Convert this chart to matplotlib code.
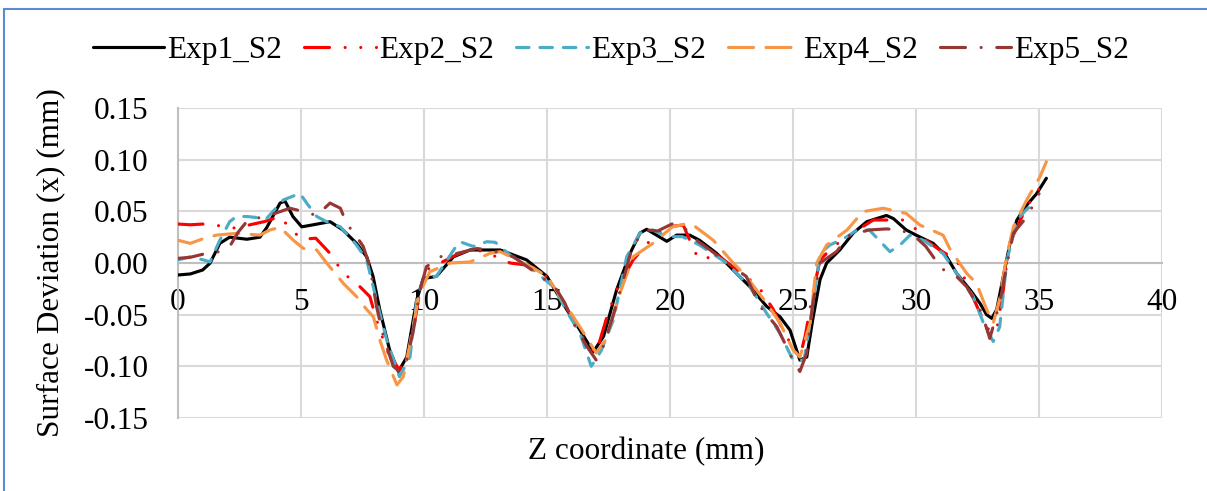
import matplotlib
matplotlib.use("Agg")
import matplotlib.pyplot as plt
from matplotlib.patches import Rectangle

# ---------------- data ----------------
exp1_x = [0, 0.5, 1.0, 1.3, 1.7, 2.1, 2.8, 3.33, 3.6, 4.15, 4.35, 4.67, 5.03, 5.5, 6.18, 6.7, 7.26, 7.67,
          7.93, 8.2, 8.6, 8.96, 9.3, 9.7, 9.97, 10.5, 11.2, 11.87, 13.1, 14.17, 15.0, 15.8, 16.34, 16.88,
          17.3, 17.83, 18.37, 18.78, 19.05, 19.45, 19.87, 20.27, 20.8, 21.2, 21.9, 22.57, 23.25, 23.93,
          24.47, 24.88, 25.28, 25.56, 25.8, 26.1, 26.37, 26.9, 27.45, 28.0, 28.8, 29.08, 29.6, 30.0, 30.7,
          31.25, 31.65, 32.2, 32.6, 32.87, 33.08, 33.28, 33.55, 33.82, 34.1, 34.5, 34.9, 35.3]
exp1_y = [-0.0116, -0.0106, -0.0068, -0.0003, 0.019, 0.025, 0.023, 0.025, 0.034, 0.058, 0.060, 0.045,
          0.035, 0.037, 0.040, 0.032, 0.019, 0.006, -0.013, -0.045, -0.084, -0.105, -0.091, -0.036,
          -0.015, -0.013, 0.006, 0.0126, 0.0126, 0.003, -0.013, -0.045, -0.065, -0.086, -0.071, -0.026,
          0.009, 0.029, 0.0326, 0.027, 0.021, 0.027, 0.027, 0.022, 0.0093, -0.0068, -0.023, -0.042,
          -0.052, -0.065, -0.094, -0.091, -0.055, -0.016, 0.0, 0.0126, 0.029, 0.040, 0.046, 0.043,
          0.032, 0.027, 0.019, 0.006, -0.010, -0.026, -0.039, -0.050, -0.0536, -0.045, -0.013, 0.019,
          0.0416, 0.056, 0.067, 0.082]

exp2_x = [0, 0.5, 1.0, 1.7, 2.4, 2.93, 3.5, 4.15, 4.55, 5.03, 5.6, 6.18, 6.72, 7.26, 7.8, 8.07, 8.48,
          9.0, 9.43, 9.84, 10.2, 10.5, 11.3, 12.0, 12.95, 13.5, 14.17, 14.7, 15.1, 15.6, 16.07, 16.6,
          17.0, 17.4, 17.83, 18.5, 19.2, 19.87, 20.54, 20.8, 21.08, 21.5, 21.7, 22.57, 23.1, 23.66, 24.2,
          24.7, 25.15, 25.28, 25.5, 25.8, 26.1, 26.64, 27.3, 28.26, 29.5, 29.9, 30.4, 31.0, 31.65, 32.06,
          32.67, 33.0, 33.28, 33.55, 33.8, 34.5, 35.3]
exp2_y = [0.0377, 0.037, 0.0377, 0.036, 0.0335, 0.037, 0.040, 0.045, 0.0335, 0.023, 0.024, 0.0093,
          -0.010, -0.0197, -0.0326, -0.055, -0.084, -0.1036, -0.084, -0.026, -0.005, -0.002, 0.0077,
          0.014, 0.006, 0.0, -0.002, -0.0068, -0.016, -0.035, -0.055, -0.078, -0.087, -0.055, -0.026,
          0.003, 0.022, 0.035, 0.0367, 0.022, 0.0077, 0.003, 0.012, -0.004, -0.013, -0.025, -0.045,
          -0.070, -0.087, -0.091, -0.070, -0.030, 0.003, 0.016, 0.027, 0.0416, 0.0416, 0.035, 0.022,
          0.012, 0.003, -0.0197, -0.052, -0.0665, -0.065, -0.026, 0.019, 0.0545, 0.082]

exp3_x = [0, 0.5, 1.03, 1.3, 1.7, 2.1, 2.38, 2.8, 3.6, 4.28, 4.96, 5.23, 5.64, 6.04, 6.6, 7.26, 7.67,
          8.07, 8.48, 9.0, 9.43, 9.7, 10.0, 10.5, 11.3, 11.46, 12.0, 12.55, 12.9, 13.5, 14.45, 15.26,
          15.93, 16.34, 16.8, 17.2, 17.7, 18.24, 18.78, 19.3, 19.87, 20.5, 21.2, 22.3, 23.25, 23.93,
          24.47, 25.0, 25.45, 25.75, 26.1, 26.5, 27.2, 27.6, 28.1, 28.5, 28.94, 29.35, 29.76, 30.3,
          31.1, 31.65, 32.33, 32.74, 33.14, 33.4, 33.7, 34.1, 34.5, 34.9]
exp3_y = [0.003, 0.006, 0.003, 0.001, 0.022, 0.040, 0.045, 0.045, 0.043, 0.061, 0.0674, 0.058, 0.045,
          0.040, 0.035, 0.0174, 0.003, -0.036, -0.074, -0.110, -0.091, -0.036, -0.013, -0.013, 0.016,
          0.0206, 0.016, 0.0206, 0.020, 0.0077, -0.0068, -0.023, -0.052, -0.068, -0.100, -0.085,
          -0.055, 0.006, 0.029, 0.032, 0.0255, 0.0255, 0.0174, 0.0, -0.023, -0.0487, -0.068, -0.094,
          -0.094, -0.050, 0.0093, 0.0174, 0.0255, 0.032, 0.032, 0.022, 0.011, 0.0174, 0.027, 0.022,
          0.0093, -0.010, -0.0326, -0.058, -0.076, -0.062, 0.003, 0.0416, 0.052, 0.059]

exp4_x = [0, 0.5, 0.96, 1.57, 2.38, 3.33, 3.74, 4.15, 4.69, 5.1, 5.64, 6.04, 6.72, 7.26, 7.67, 7.94,
          8.2, 8.48, 8.9, 9.16, 9.43, 9.8, 10.24, 11.06, 11.87, 12.68, 13.1, 13.77, 14.45, 15.0, 15.8,
          16.5, 17.0, 17.4, 17.97, 18.5, 19.3, 20.1, 20.67, 20.94, 21.76, 22.57, 23.1, 23.93, 24.47,
          25.0, 25.28, 25.7, 25.96, 26.37, 27.2, 27.84, 28.67, 29.6, 30.16, 31.1, 31.4, 32.06, 32.46,
          32.87, 33.14, 33.4, 33.68, 33.96, 34.5, 35.04, 35.3]
exp4_y = [0.022, 0.019, 0.023, 0.027, 0.0287, 0.027, 0.032, 0.0345, 0.022, 0.014, 0.0126, 0.0,
          -0.0197, -0.0326, -0.045, -0.052, -0.074, -0.094, -0.118, -0.110, -0.078, -0.030, -0.0084,
          0.0, 0.001, 0.0093, 0.011, 0.003, -0.005, -0.013, -0.042, -0.068, -0.087, -0.074, -0.029,
          0.006, 0.019, 0.035, 0.038, 0.0367, 0.022, 0.0, -0.013, -0.039, -0.058, -0.084, -0.091,
          -0.058, 0.0, 0.0174, 0.032, 0.0497, 0.053, 0.048, 0.0367, 0.027, 0.0126, -0.010, -0.0197,
          -0.045, -0.058, -0.035, 0.006, 0.035, 0.061, 0.0835, 0.098]

exp5_x = [0, 0.5, 1.1, 1.7, 2.1, 2.45, 2.86, 3.6, 3.94, 4.55, 5.1, 5.64, 6.18, 6.6, 6.86, 7.26, 7.53,
          7.8, 8.07, 8.35, 8.75, 9.0, 9.3, 9.57, 9.85, 10.1, 10.4, 10.65, 11.3, 12.14, 12.68, 13.63,
          14.58, 15.1, 15.4, 15.73, 16.07, 16.6, 17.0, 17.3, 17.7, 18.1, 18.5, 19.05, 19.5, 20.1, 20.5,
          21.08, 21.63, 22.17, 23.1, 23.66, 24.34, 25.0, 25.28, 25.56, 25.8, 26.1, 26.77, 27.3, 28.1,
          28.8, 29.35, 29.9, 30.4, 30.7, 31.0, 31.65, 32.06, 32.6, 32.8, 33.0, 33.4, 33.68, 33.96,
          34.4, 34.77, 35.0]
exp5_y = [0.0045, 0.0055, 0.009, 0.011, 0.016, 0.030, 0.042, 0.045, 0.048, 0.053, 0.0497, 0.046,
          0.058, 0.053, 0.038, 0.0255, 0.016, -0.0035, -0.042, -0.071, -0.100, -0.105, -0.094, -0.065,
          -0.025, -0.0035, 0.001, 0.006, 0.009, 0.014, 0.0126, 0.006, -0.010, -0.0197, -0.026, -0.039,
          -0.058, -0.080, -0.094, -0.080, -0.050, -0.016, 0.018, 0.032, 0.031, 0.038, 0.036, 0.022,
          0.0126, 0.003, -0.013, -0.042, -0.0616, -0.094, -0.105, -0.087, -0.040, 0.0, 0.011, 0.027,
          0.032, 0.033, 0.032, 0.027, 0.016, 0.006, -0.005, -0.013, -0.023, -0.045, -0.058, -0.073,
          -0.039, -0.0035, 0.029, 0.0416, 0.056, 0.067]

series_labels = ["Exp1_S2", "Exp2_S2", "Exp3_S2", "Exp4_S2", "Exp5_S2"]
x_ticks = [0, 5, 10, 15, 20, 25, 30, 35, 40]
y_ticks = [-0.15, -0.10, -0.05, 0.00, 0.05, 0.10, 0.15]
y_tick_labels = ["-0.15", "-0.10", "-0.05", "0.00", "0.05", "0.10", "0.15"]
x_label = "Z coordinate (mm)"
y_label = "Surface Deviation (x) (mm)"

# ---------------- style ----------------
plt.rcParams['font.family'] = ['Liberation Serif', 'DejaVu Serif']
FS = 22.5
W, H = 1207, 491
fig = plt.figure(figsize=(W / 100, H / 100), dpi=100)
fig.patch.set_facecolor('white')

L, R, T, B = 178, 1162, 108, 418
ax = fig.add_axes([L / W, 1 - B / H, (R - L) / W, (B - T) / H])

styles = [
    dict(color='black', linestyle='-'),
    dict(color='#ff0000', dashes=(8, 5, 0.01, 5, 0.01, 5)),
    dict(color='#4bacc6', dashes=(4, 3.5)),
    dict(color='#f79646', dashes=(8, 4)),
    dict(color='#953735', dashes=(8, 5, 0.01, 5)),
]
data = [(exp1_x, exp1_y), (exp2_x, exp2_y), (exp3_x, exp3_y), (exp4_x, exp4_y), (exp5_x, exp5_y)]
for (xs, ys), st, lab in zip(data, styles, series_labels):
    ax.plot(xs, ys, lw=2.25, label=lab, solid_capstyle='round', dash_capstyle='round',
            solid_joinstyle='round', dash_joinstyle='round', zorder=3, **st)

ax.set_xlim(0, 40)
ax.set_ylim(-0.15, 0.15)
ax.set_xticks(x_ticks)
ax.set_xticklabels([str(v) for v in x_ticks])
ax.set_yticks(y_ticks)
ax.set_yticklabels(y_tick_labels)
ax.grid(True, color='#d9d9d9', lw=1.5, zorder=0)
ax.set_axisbelow(True)

for s in ['top', 'right']:
    ax.spines[s].set_visible(False)
ax.spines['bottom'].set_position(('data', 0))
ax.spines['bottom'].set_color('#bfbfbf')
ax.spines['left'].set_color('#bfbfbf')
ax.spines['bottom'].set_linewidth(1.5)
ax.spines['left'].set_linewidth(1.5)
ax.tick_params(axis='both', length=0, labelsize=FS, colors='black')
ax.tick_params(axis='y', pad=21)
ax.tick_params(axis='x', pad=18)

fig.text(646 / W, 1 - 452 / H, x_label, ha='center', va='center', fontsize=FS)
fig.text(51 / W, 1 - 263 / H, y_label, ha='center', va='center', rotation=90, fontsize=FS)

leg = fig.legend(loc='center', bbox_to_anchor=(611 / W, 1 - 50 / H), ncol=5, frameon=False,
                 fontsize=FS, handlelength=2.3, handletextpad=0.1, columnspacing=0.7,
                 borderpad=0, borderaxespad=0)

# chart-area border (only left and top edges visible in the image)
fig.add_artist(Rectangle((4 / W, -0.2), 1.5, 1.2 - 9 / H, transform=fig.transFigure,
                         fill=False, edgecolor='#5b8bd0', lw=1.5, clip_on=False))

fig.savefig('out.png', dpi=100)
